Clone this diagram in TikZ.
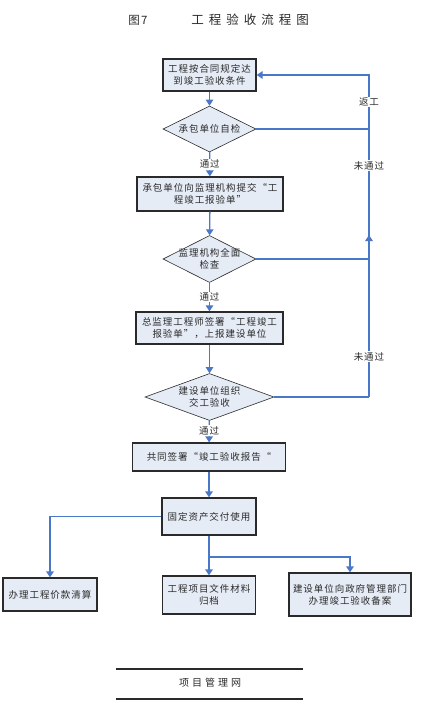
\documentclass[tikz,border=0pt]{standalone}
\usepackage{fontspec}
\newfontfamily\cjk[LetterSpace=10]{Noto Sans CJK SC}
\newfontfamily\cjktitle[LetterSpace=40]{Noto Sans CJK SC}
\newfontfamily\cjkfoot[LetterSpace=30]{Noto Sans CJK SC}
\usetikzlibrary{shapes.geometric,arrows.meta}
\definecolor{boxfill}{HTML}{E6ECF6}
\definecolor{flow}{HTML}{4A78C8}
\definecolor{ink}{HTML}{2A2A2A}
\tikzset{
  stepbox/.style={draw=ink, line width=1.2pt, fill=boxfill, rectangle, inner sep=0pt,
    align=center, font=\cjk\fontsize{9.5}{12}\selectfont, text=ink},
  dia/.style={draw=ink, line width=0.6pt, fill=boxfill, diamond, inner sep=0pt, aspect=2},
  diatext/.style={align=center, font=\cjk\fontsize{9.5}{12}\selectfont, text=ink, inner sep=0pt},
  flowline/.style={draw=flow, line width=1.3pt},
  flowarrow/.style={flowline, -{Triangle[width=7.5pt,length=6pt]}},
  lab/.style={fill=white, inner sep=1pt, font=\cjk\fontsize{9.5}{11}\selectfont, text=ink},
}
\begin{document}
\begin{tikzpicture}[x=1pt,y=-1pt]
\useasboundingbox (0,0) rectangle (421,702);
% title
\node[font=\cjk\fontsize{11.5}{13}\selectfont, text=ink] (fig) at (138,20) {图7};
\node[font=\cjktitle\fontsize{12.5}{14}\selectfont, text=ink] (title) at (250,20) {工程验收流程图};
% boxes
\node[stepbox, minimum width=93pt, minimum height=32pt] (b1) at (209.5,75) {工程按合同规定达\\到竣工验收条件};
\node[dia, minimum width=93pt, minimum height=46pt] (d1) at (209.5,129) {};
\node[diatext] (t1) at (d1) {承包单位自检};
\node[stepbox, minimum width=146pt, minimum height=34pt] (b2) at (210,194) {承包单位向监理机构提交“工\\程竣工报验单”};
\node[dia, minimum width=93pt, minimum height=47pt] (d2) at (209.5,259) {};
\node[diatext] (t2) at (d2) {监理机构全面\\检查};
\node[stepbox, minimum width=147pt, minimum height=32pt] (b3) at (209.5,328) {总监理工程师签署“工程竣工\\报验单”，上报建设单位};
\node[dia, minimum width=129pt, minimum height=47pt] (d3) at (209.5,397) {};
\node[diatext] (t3) at (d3) {建设单位组织\\交工验收};
\node[stepbox, minimum width=153pt, minimum height=28pt] (b4) at (209,457) {共同签署“竣工验收报告“};
\node[stepbox, minimum width=94pt, minimum height=37pt] (b5) at (209,516.5) {固定资产交付使用};
\node[stepbox, minimum width=94pt, minimum height=33pt] (b6) at (50,594.5) {办理工程价款清算};
\node[stepbox, minimum width=93pt, minimum height=38pt] (b7) at (209,595) {工程项目文件材料\\归档};
\node[stepbox, minimum width=122pt, minimum height=43pt] (b8) at (350,594.5) {建设单位向政府管理部门\\办理竣工验收备案};
% main flow
\draw[flowarrow] (b1) -- (d1);
\draw[flowarrow] (d1) -- node[lab] (p1) {通过} (b2);
\draw[flowarrow] (b2) -- (d2);
\draw[flowarrow] (d2) -- node[lab] (p2) {通过} (b3);
\draw[flowarrow] (b3) -- (d3);
\draw[flowarrow] (d3) -- node[lab, pos=0.45] (p3) {通过} (b4);
\draw[flowarrow] (b4) -- (b5);
% return loop
\coordinate (r1) at (369,129);
\coordinate (r2) at (369,259);
\coordinate (r3) at (369,397);
\coordinate (r0) at (369,75);
\coordinate (r4) at (369,235);
\draw[flowline] (d1.east) -- (r1);
\draw[flowarrow] (r1) -- node[lab, pos=0.5] (fg) {返工} (r0) -- (b1.east);
\draw[flowline] (d2.east) -- (r2) -- node[lab, pos=0.72] (nf1) {未通过} (r1);
\draw[flowline] (d3.east) -- (r3);
\draw[flowarrow] (r3) -- node[lab, pos=0.25] (nf2) {未通过} (r4);
% branches
\coordinate (c6) at (50,516.5);
\coordinate (c78) at (209,557);
\coordinate (c8) at (350,557);
\draw[flowarrow] (b5.west) -- (c6) -- (b6.north);
\draw[flowarrow] (b5.south) -- (b7.north);
\draw[flowarrow] (c78) -- (c8) -- (b8.north);
% footer
\coordinate (f1a) at (116,669);
\coordinate (f1b) at (303,669);
\coordinate (f2a) at (116,699);
\coordinate (f2b) at (303,699);
\draw[line width=1.5pt, ink] (f1a) -- (f1b);
\draw[line width=1.5pt, ink] (f2a) -- (f2b);
\node[font=\cjkfoot\fontsize{10}{12}\selectfont, text=ink] (foot) at (210,683) {项目管理网};
\end{tikzpicture}
\end{document}
